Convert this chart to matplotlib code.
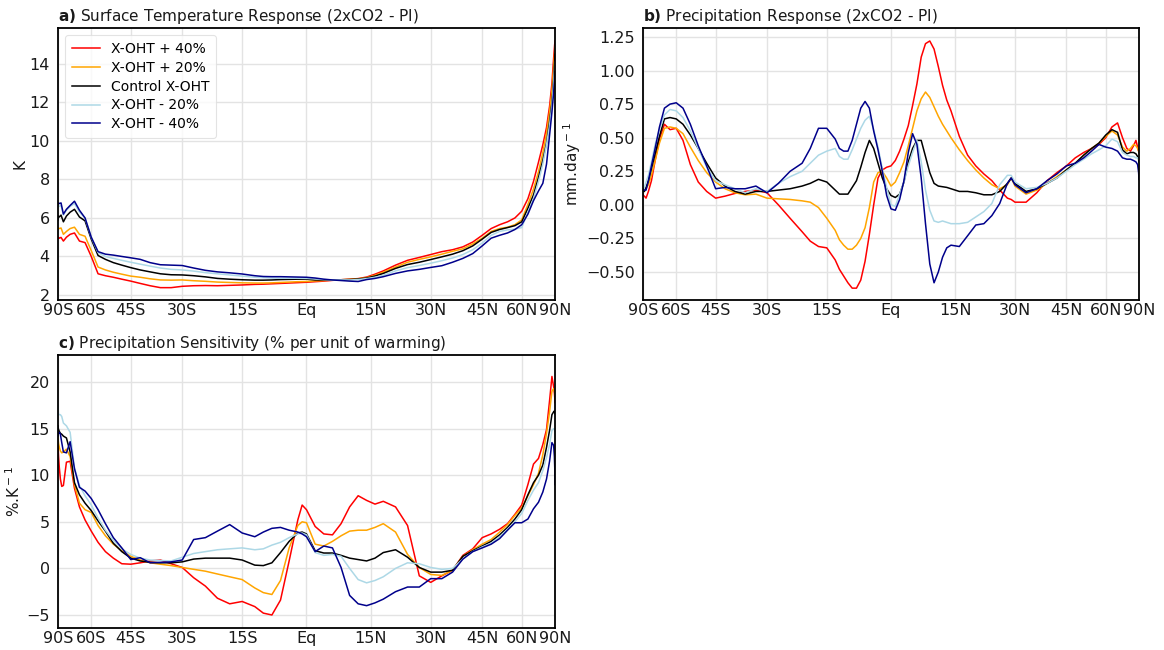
import numpy as np
import matplotlib
matplotlib.use("Agg")
import matplotlib.pyplot as plt

# ---------------- data ----------------
series_names = ["X-OHT + 40%", "X-OHT + 20%", "Control X-OHT", "X-OHT - 20%", "X-OHT - 40%"]
series_colors = ["red", "orange", "black", "lightblue", "darkblue"]

tick_lats = [-90, -60, -45, -30, -15, 0, 15, 30, 45, 60, 90]
tick_labels = ["90S", "60S", "45S", "30S", "15S", "Eq", "15N", "30N", "45N", "60N", "90N"]

# Panel a: surface temperature response (K)
lat_a = [-90, -87, -84, -81, -78, -75, -72, -69, -66, -63, -60, -57, -54, -51, -48, -45, -42, -39,
         -36, -33, -30, -27, -24, -21, -18, -15, -12, -10, -8, -6, -4, -2, 0,
         2, 4, 6, 8, 10, 12, 14, 16, 18, 21, 24, 27, 30, 33, 36, 39, 42, 45, 48, 51, 54, 57,
         60, 63, 66, 69, 72, 75, 78, 81, 84, 87, 90]
ts_p40 = [4.95, 5.0, 4.95, 4.99, 4.8, 5.0, 5.15, 5.22, 4.8, 4.72, 4.0, 3.1, 3.0, 2.92, 2.82, 2.72, 2.6, 2.48,
          2.38, 2.38, 2.45, 2.48, 2.49, 2.48, 2.50, 2.52, 2.55, 2.56, 2.58, 2.6, 2.62, 2.64, 2.66,
          2.69, 2.72, 2.76, 2.79, 2.82, 2.85, 2.93, 3.08, 3.25, 3.55, 3.8, 3.95, 4.1, 4.25, 4.35, 4.5, 4.75,
          5.1, 5.45, 5.65, 5.8, 6.0, 6.35, 7.0, 7.9, 8.9, 9.8, 10.7, 11.8, 13.0, 14.3, 15.0, 15.2]
ts_p20 = [5.4, 5.48, 5.45, 5.48, 5.15, 5.3, 5.45, 5.52, 5.15, 5.05, 4.3, 3.45, 3.3, 3.18, 3.08, 2.98, 2.92, 2.84,
          2.78, 2.77, 2.78, 2.74, 2.71, 2.67, 2.65, 2.63, 2.62, 2.62, 2.63, 2.65, 2.67, 2.69, 2.7,
          2.73, 2.75, 2.77, 2.79, 2.81, 2.84, 2.9, 3.02, 3.18, 3.45, 3.7, 3.85, 3.98, 4.12, 4.27, 4.4, 4.65,
          4.95, 5.3, 5.45, 5.52, 5.65, 5.9, 6.7, 7.5, 8.4, 9.4, 10.4, 11.5, 12.6, 13.8, 14.6, 14.9]
ts_ctl = [5.9, 6.1, 6.05, 6.15, 5.8, 6.1, 6.3, 6.45, 6.05, 5.85, 4.9, 4.05, 3.85, 3.68, 3.55, 3.42, 3.3, 3.2,
          3.1, 3.05, 3.04, 3.0, 2.94, 2.86, 2.82, 2.79, 2.77, 2.77, 2.78, 2.8, 2.81, 2.82, 2.82,
          2.78, 2.78, 2.78, 2.79, 2.8, 2.83, 2.88, 2.98, 3.12, 3.38, 3.58, 3.7, 3.84, 3.98, 4.12, 4.3, 4.55,
          4.9, 5.25, 5.4, 5.5, 5.6, 5.8, 6.5, 7.2, 8.1, 9.0, 9.9, 11.0, 12.0, 13.2, 14.1, 14.5]
ts_m20 = [6.6, 6.65, 6.6, 6.65, 6.15, 6.4, 6.6, 6.75, 6.3, 6.0, 5.0, 4.2, 4.0, 3.9, 3.8, 3.7, 3.6, 3.5,
          3.4, 3.33, 3.3, 3.24, 3.16, 3.1, 3.04, 2.98, 2.92, 2.9, 2.88, 2.87, 2.87, 2.87, 2.86,
          2.83, 2.8, 2.78, 2.78, 2.78, 2.8, 2.85, 2.92, 3.02, 3.25, 3.42, 3.53, 3.65, 3.78, 3.92, 4.1, 4.35,
          4.7, 5.1, 5.3, 5.38, 5.42, 5.5, 6.3, 7.0, 7.9, 8.8, 9.8, 10.8, 11.8, 13.0, 13.8, 14.1]
ts_m40 = [6.7, 6.78, 6.75, 6.78, 6.2, 6.45, 6.65, 6.87, 6.4, 6.0, 5.0, 4.25, 4.12, 4.07, 4.0, 3.93, 3.85, 3.68,
          3.57, 3.55, 3.53, 3.4, 3.28, 3.2, 3.15, 3.09, 3.0, 2.96, 2.95, 2.95, 2.94, 2.93, 2.92,
          2.88, 2.82, 2.78, 2.75, 2.72, 2.7, 2.8, 2.86, 2.95, 3.12, 3.25, 3.33, 3.43, 3.52, 3.7, 3.9, 4.15,
          4.55, 4.95, 5.1, 5.22, 5.4, 5.65, 6.2, 6.9, 7.4, 7.8, 8.8, 10.3, 11.5, 12.5, 13.3, 13.6]

# Panel b: precipitation response (mm/day)
lat_b = [-90, -87, -84, -81, -78, -75, -72, -69, -66, -63, -60, -57, -54, -51, -48, -45, -42, -39, -36,
         -33, -30, -27, -24, -21, -19, -17, -15, -13, -12, -11, -10, -9, -8, -7, -6, -5, -4, -3, -2, -1, 0,
         1, 2, 3, 4, 5, 6, 7, 8, 9, 10, 11, 12, 13, 14, 16, 18, 20, 22, 24, 26, 28, 29, 30, 33, 36, 39,
         42, 45, 48, 51, 54, 57, 60, 63, 66, 69, 72, 75, 78, 81, 84, 87, 90]
pr_p40 = [0.08, 0.07, 0.065, 0.05, 0.10, 0.18, 0.33, 0.49, 0.60, 0.56, 0.57, 0.48, 0.30, 0.17, 0.10, 0.05,
          0.065, 0.085, 0.10, 0.11, 0.09, 0.00, -0.10, -0.20, -0.27, -0.31, -0.32, -0.41, -0.48, -0.53, -0.58,
          -0.62, -0.62, -0.56, -0.42, -0.22, 0.00, 0.20, 0.26, 0.28, 0.29,
          0.33, 0.40, 0.49, 0.59, 0.74, 0.90, 1.10, 1.20, 1.22, 1.16, 1.03, 0.89, 0.78, 0.70, 0.51, 0.37,
          0.29, 0.23, 0.18, 0.11, 0.05, 0.04, 0.02, 0.02, 0.09, 0.18, 0.24, 0.29, 0.35, 0.39, 0.42, 0.45,
          0.50, 0.58, 0.61, 0.50, 0.42, 0.40, 0.44, 0.48, 0.43, 0.40, 0.39]
pr_p20 = [0.10, 0.10, 0.10, 0.12, 0.15, 0.22, 0.33, 0.46, 0.57, 0.58, 0.57, 0.53, 0.43, 0.33, 0.24, 0.17,
          0.12, 0.09, 0.075, 0.08, 0.05, 0.045, 0.04, 0.03, 0.02, -0.02, -0.10, -0.19, -0.26, -0.30, -0.33,
          -0.33, -0.30, -0.25, -0.17, -0.02, 0.17, 0.24, 0.25, 0.20, 0.14,
          0.17, 0.24, 0.32, 0.44, 0.57, 0.70, 0.79, 0.84, 0.80, 0.73, 0.66, 0.60, 0.55, 0.50, 0.41, 0.33,
          0.26, 0.20, 0.15, 0.12, 0.15, 0.20, 0.14, 0.08, 0.11, 0.16, 0.21, 0.26, 0.31, 0.37, 0.42, 0.46,
          0.51, 0.55, 0.52, 0.43, 0.40, 0.42, 0.45, 0.44, 0.42, 0.40, 0.39]
pr_ctl = [0.11, 0.10, 0.10, 0.13, 0.18, 0.27, 0.38, 0.51, 0.64, 0.65, 0.64, 0.60, 0.52, 0.42, 0.31, 0.20,
          0.14, 0.10, 0.08, 0.10, 0.10, 0.11, 0.12, 0.14, 0.16, 0.19, 0.17, 0.11, 0.08, 0.08, 0.08,
          0.13, 0.18, 0.28, 0.39, 0.48, 0.42, 0.31, 0.20, 0.12, 0.07,
          0.055, 0.08, 0.17, 0.32, 0.42, 0.48, 0.48, 0.36, 0.24, 0.16, 0.14, 0.135, 0.13, 0.12, 0.10, 0.10,
          0.09, 0.075, 0.075, 0.10, 0.16, 0.20, 0.16, 0.10, 0.12, 0.16, 0.20, 0.26, 0.31, 0.37, 0.42, 0.46,
          0.52, 0.56, 0.54, 0.41, 0.38, 0.39, 0.39, 0.38, 0.36, 0.34, 0.32]
pr_m20 = [0.12, 0.11, 0.13, 0.17, 0.22, 0.32, 0.45, 0.56, 0.67, 0.71, 0.70, 0.65, 0.55, 0.42, 0.28, 0.18,
          0.15, 0.12, 0.09, 0.12, 0.10, 0.16, 0.21, 0.25, 0.31, 0.37, 0.40, 0.42, 0.36, 0.34, 0.34,
          0.41, 0.49, 0.57, 0.63, 0.66, 0.56, 0.43, 0.27, 0.13, 0.00,
          -0.01, 0.08, 0.17, 0.29, 0.39, 0.48, 0.32, 0.11, -0.04, -0.12, -0.13, -0.12, -0.13, -0.14, -0.14, -0.13,
          -0.09, -0.05, 0.01, 0.15, 0.22, 0.22, 0.17, 0.12, 0.13, 0.16, 0.20, 0.25, 0.30, 0.34, 0.38, 0.41,
          0.44, 0.49, 0.47, 0.39, 0.37, 0.36, 0.36, 0.35, 0.35, 0.34, 0.34]
pr_m40 = [0.12, 0.11, 0.11, 0.11, 0.18, 0.29, 0.42, 0.58, 0.72, 0.75, 0.76, 0.72, 0.60, 0.44, 0.29, 0.12,
          0.13, 0.12, 0.12, 0.14, 0.09, 0.16, 0.25, 0.31, 0.42, 0.57, 0.57, 0.49, 0.42, 0.40, 0.40,
          0.48, 0.60, 0.72, 0.77, 0.72, 0.55, 0.41, 0.25, 0.07, -0.03,
          -0.04, 0.04, 0.18, 0.39, 0.53, 0.45, 0.20, -0.14, -0.44, -0.58, -0.50, -0.39, -0.32, -0.30, -0.31, -0.23,
          -0.15, -0.14, -0.08, 0.01, 0.16, 0.20, 0.15, 0.09, 0.12, 0.18, 0.23, 0.29, 0.31, 0.35, 0.40, 0.45,
          0.43, 0.42, 0.40, 0.35, 0.34, 0.34, 0.33, 0.32, 0.30, 0.24, 0.19]

# Panel c: precipitation sensitivity (% per K)
lat_c = [-90, -88, -86, -84, -82, -80, -78, -75, -72, -69, -66, -63, -60, -57, -54, -51, -48, -45, -42,
         -39, -36, -33, -30, -27, -24, -21, -18, -15, -12, -10, -8, -6, -4, -2, -1, 0,
         2, 4, 6, 8, 10, 12, 14, 16, 18, 21, 24, 27, 30, 33, 36, 39, 42, 45, 48, 51, 54, 57, 60,
         63, 66, 69, 72, 75, 78, 81, 84, 86, 88, 90]
ps_p40 = [13.5, 13.0, 12.0, 10.8, 9.6, 8.8, 8.9, 11.4, 11.5, 8.6, 6.6, 5.2, 4.0, 2.8, 1.8, 1.1, 0.5, 0.45, 0.6,
          0.8, 0.9, 0.5, 0.1, -1.0, -1.9, -3.2, -3.8, -3.55, -4.1, -4.8, -5.0, -3.4, 0.8, 5.2, 6.8, 6.3,
          4.5, 3.7, 3.6, 4.8, 6.6, 7.8, 7.3, 6.9, 7.2, 6.6, 4.6, -0.8, -1.5, -0.8, -0.2, 1.4, 2.1, 3.3, 3.7,
          4.2, 4.8, 5.8, 6.8, 9.0, 11.2, 11.8, 13.3, 14.9, 18.0, 20.6, 19.5, 18.8, 18.2, 17.8]
ps_p20 = [14.0, 13.8, 13.4, 13.0, 12.6, 12.4, 12.5, 12.8, 12.0, 9.0, 7.0, 6.3, 6.0, 4.6, 3.5, 2.6, 1.9, 1.3, 0.9,
          0.6, 0.45, 0.3, 0.1, -0.1, -0.3, -0.6, -0.9, -1.2, -2.1, -2.6, -2.8, -1.3, 2.2, 4.6, 5.0, 4.9,
          2.6, 2.4, 2.9, 3.5, 4.0, 4.1, 4.1, 4.4, 4.8, 3.9, 1.5, 0.1, -0.65, -0.75, -0.2, 1.3, 2.0, 2.6, 3.1,
          3.9, 4.7, 5.7, 6.5, 7.8, 9.0, 10.2, 12.2, 14.5, 16.8, 19.0, 19.3, 19.0, 18.8, 18.6]
ps_ctl = [15.3, 15.1, 14.9, 14.7, 14.5, 14.4, 14.2, 14.0, 12.5, 9.2, 7.9, 7.0, 6.2, 5.1, 4.0, 2.7, 1.8, 1.1, 0.8,
          0.65, 0.6, 0.6, 0.7, 1.0, 1.1, 1.1, 1.1, 0.9, 0.35, 0.3, 0.6, 1.7, 2.9, 3.8, 3.9, 3.7,
          1.9, 1.65, 1.65, 1.4, 1.1, 0.95, 0.8, 1.1, 1.7, 2.0, 1.2, 0.1, -0.4, -0.4, -0.2, 1.3, 1.9, 2.4, 2.9,
          3.6, 4.4, 5.3, 6.3, 7.9, 9.2, 10.0, 11.1, 13.0, 14.8, 16.5, 16.8, 16.9, 16.7, 16.6]
ps_m20 = [17.5, 17.0, 16.5, 16.5, 16.5, 16.3, 15.6, 15.3, 14.6, 10.8, 8.9, 7.8, 6.8, 5.4, 4.1, 3.0, 2.1, 1.5, 1.1,
          0.9, 0.85, 0.8, 1.2, 1.6, 1.8, 2.0, 2.1, 2.2, 2.0, 2.1, 2.5, 2.8, 3.3, 3.7, 3.8, 3.6,
          1.7, 1.4, 1.5, 1.3, 0.0, -1.2, -1.55, -1.3, -0.9, 0.0, 0.6, 0.5, 0.1, -0.1, 0.0, 1.0, 1.8, 2.3, 2.7,
          3.4, 4.2, 5.0, 5.9, 7.3, 8.4, 9.2, 10.5, 11.9, 13.3, 14.8, 15.0, 14.9, 14.8, 14.7]
ps_m40 = [14.2, 14.4, 14.5, 14.6, 14.4, 13.5, 12.5, 12.4, 13.6, 10.7, 8.7, 8.3, 7.5, 6.3, 4.8, 3.3, 2.2, 0.95, 1.15,
          0.6, 0.65, 0.7, 0.9, 3.1, 3.3, 4.0, 4.7, 3.8, 3.4, 3.9, 4.3, 4.4, 4.1, 3.9, 3.7, 3.4,
          1.8, 2.4, 2.2, 0.1, -2.9, -3.8, -4.0, -3.7, -3.3, -2.5, -2.0, -2.0, -1.1, -1.1, -0.4, 1.0, 1.8, 2.2, 2.6,
          3.2, 4.1, 4.9, 4.9, 5.3, 6.4, 7.1, 8.2, 9.6, 11.5, 13.5, 13.2, 12.0, 10.5, 9.0]

# ---------------- figure ----------------
def fwd(lat):
    return np.sin(np.deg2rad(lat))

def inv(s):
    return np.rad2deg(np.arcsin(np.clip(s, -1, 1)))

fig = plt.figure(figsize=(11.64, 6.5), dpi=100)
ax_a = fig.add_axes([0.0498, 0.5385, 0.4270, 0.4185])
ax_b = fig.add_axes([0.5524, 0.5385, 0.4261, 0.4185])
ax_c = fig.add_axes([0.0498, 0.0338, 0.4270, 0.4200])

panels = [
    (ax_a, lat_a, [ts_p40, ts_p20, ts_ctl, ts_m20, ts_m40], "a)", "Surface Temperature Response (2xCO2 - PI)",
     "K", (1.74, 15.87), [2, 4, 6, 8, 10, 12, 14], "{:g}", -0.062),
    (ax_b, lat_b, [pr_p40, pr_p20, pr_ctl, pr_m20, pr_m40], "b)", "Precipitation Response (2xCO2 - PI)",
     r"mm.day$^-$$^1$", (-0.708, 1.317), [-0.5, -0.25, 0, 0.25, 0.5, 0.75, 1.0, 1.25], "{:.2f}", -0.121),
    (ax_c, lat_c, [ps_p40, ps_p20, ps_ctl, ps_m20, ps_m40], "c)", "Precipitation Sensitivity (% per unit of warming)",
     r"%.K$^-$$^1$", (-6.4, 22.9), [-5, 0, 5, 10, 15, 20], "{:g}", -0.070),
]

for ax, lat, ys, tag, title, ylab, ylim, yticks, fmt, labx in panels:
    ax.set_xscale("function", functions=(fwd, inv))
    for y, name, col in zip(ys, series_names, series_colors):
        ax.plot(lat, y, color=col, lw=1.1, label=name)
    ax.set_xlim(-90, 90)
    ax.set_ylim(*ylim)
    ax.set_xticks(tick_lats)
    ax.set_xticklabels(tick_labels)
    ax.set_yticks(yticks)
    ax.set_yticklabels([fmt.format(v).replace("-", "\u2212") for v in yticks])
    ax.grid(True, color="#e3e3e3", lw=1.0)
    ax.set_axisbelow(True)
    ax.tick_params(axis="both", length=0, labelsize=11.5, colors="#1a1a1a")
    ax.tick_params(axis="y", pad=6)
    ax.tick_params(axis="x", pad=2)
    for sp in ax.spines.values():
        sp.set_color("black")
        sp.set_linewidth(1.3)
    ax.set_ylabel(ylab, fontsize=11, color="#1a1a1a")
    ax.yaxis.set_label_coords(labx, 0.5)
    ax.set_title(r"$\mathbf{" + tag + "}$ " + title, loc="left", fontsize=11, pad=5, color="#1a1a1a")

leg = ax_a.legend(loc="upper left", fontsize=10, frameon=True, borderpad=0.5, labelspacing=0.35,
                  handlelength=2.0, bbox_to_anchor=(0.0, 1.0))
leg.get_frame().set_edgecolor("#dddddd")
leg.get_frame().set_linewidth(0.8)

fig.savefig("out.png", dpi=100)
